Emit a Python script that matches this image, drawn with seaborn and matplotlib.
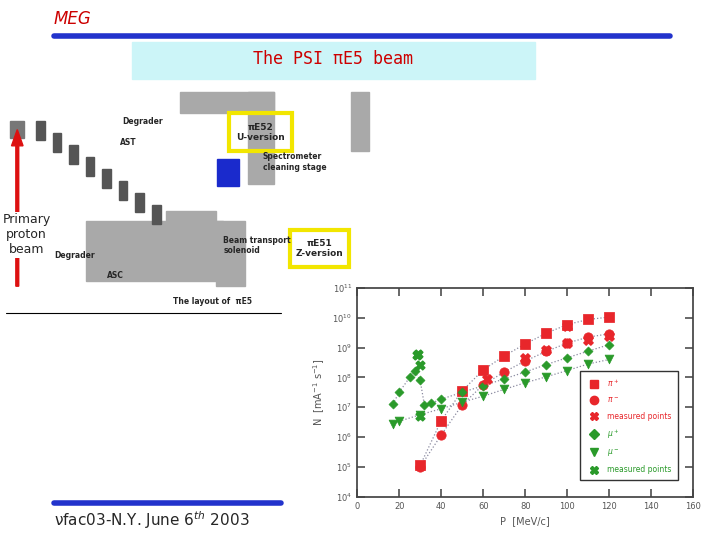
import numpy as np
import matplotlib
matplotlib.use("Agg")
import matplotlib.pyplot as plt
import matplotlib.patches as mpatches
import seaborn as sns

sns.set_theme(style="ticks")
plt.rcParams['font.family'] = ['DejaVu Sans']

# data (log10 of N)
p_pip = [30, 40, 50, 60, 70, 80, 90, 100, 110, 120]
n_pip = [5.05, 6.55, 7.55, 8.25, 8.72, 9.12, 9.48, 9.77, 9.94, 10.02]
p_pim = [30, 40, 50, 60, 70, 80, 90, 100, 110, 120]
n_pim = [5.0, 6.07, 7.08, 7.75, 8.18, 8.55, 8.87, 9.15, 9.35, 9.46]
p_pi_meas = [62, 80, 90, 100, 100, 110, 120]
n_pi_meas = [7.95, 8.66, 8.92, 9.15, 9.72, 9.26, 9.38]
p_mup = [17, 20, 25, 27.5, 30, 32, 35, 40, 50, 60, 70, 80, 90, 100, 110, 120]
n_mup = [7.1, 7.5, 8.0, 8.2, 7.9, 7.08, 7.13, 7.27, 7.5, 7.72, 7.95, 8.18, 8.43, 8.66, 8.88, 9.1]
p_mum = [17, 20, 30, 40, 50, 60, 70, 80, 90, 100, 110, 120]
n_mum = [6.45, 6.53, 6.75, 6.95, 7.17, 7.37, 7.6, 7.82, 8.02, 8.23, 8.45, 8.6]
p_mu_meas = [28.5, 29, 30, 30]
n_mu_meas = [8.75, 8.78, 8.4, 6.7]

red = "#e8262b"
green = "#2a9a2a"
line_gray = "#8a8aa0"

fig = plt.figure(figsize=(7.2, 5.4), dpi=100)

# slide decorations
fig.text(0.075, 0.965, "MEG", color="#cc0000", fontsize=12, style="italic", va="center")
fig.add_artist(plt.Line2D([0.075, 0.93], [0.933, 0.933], color="#2233cc", lw=4))
fig.add_artist(mpatches.Rectangle((0.183, 0.853), 0.56, 0.07, color="#ccf5f8", transform=fig.transFigure))
fig.text(0.463, 0.89, "The PSI \u03c0E5 beam", color="#cc0000", fontsize=12,
         ha="center", va="center", family="monospace")
fig.add_artist(plt.Line2D([0.075, 0.39], [0.068, 0.068], color="#2233cc", lw=4))
fig.text(0.075, 0.037, "\u03bdfac03-N.Y. June 6$^{th}$ 2003", fontsize=11, va="center")
fig.add_artist(plt.Line2D([0.008, 0.39], [0.42, 0.42], color="black", lw=0.8))

# rough sketch of the beamline layout
gray = "#a9a9a9"
for x, y, w, h in [(0.25, 0.79, 0.13, 0.04), (0.345, 0.66, 0.035, 0.17), (0.487, 0.72, 0.025, 0.11),
                   (0.12, 0.48, 0.19, 0.11), (0.30, 0.47, 0.04, 0.12), (0.23, 0.55, 0.07, 0.06)]:
    fig.add_artist(mpatches.Rectangle((x, y), w, h, color=gray, transform=fig.transFigure))
fig.add_artist(mpatches.Rectangle((0.302, 0.655), 0.03, 0.05, color="#1a2acc", transform=fig.transFigure))
fig.add_artist(mpatches.Rectangle((0.014, 0.745), 0.02, 0.03, color="#777777", transform=fig.transFigure))
for k in range(8):
    fig.add_artist(mpatches.Rectangle((0.05 + k * 0.023, 0.74 - k * 0.022), 0.012, 0.035,
                                      color="#555555", transform=fig.transFigure))
fig.add_artist(mpatches.FancyArrow(0.024, 0.47, 0, 0.26, width=0.004, head_width=0.016,
                                   head_length=0.03, color="#dd1111", transform=fig.transFigure))
fig.text(0.037, 0.565, "Primary\nproton\nbeam", fontsize=9, ha="center", va="center",
         bbox=dict(fc="white", ec="none", pad=1))
for x, y, w, h, s in [(0.318, 0.72, 0.087, 0.07, "\u03c0E52\nU-version"),
                      (0.403, 0.505, 0.082, 0.07, "\u03c0E51\nZ-version")]:
    fig.add_artist(mpatches.Rectangle((x, y), w, h, fill=False, ec="#f2e600", lw=3,
                                      transform=fig.transFigure))
    fig.text(x + w / 2, y + h / 2, s, fontsize=6.5, ha="center", va="center", weight="bold")
for x, y, s in [(0.17, 0.775, "Degrader"), (0.167, 0.737, "AST"), (0.365, 0.7, "Spectrometer\ncleaning stage"),
                (0.075, 0.527, "Degrader"), (0.148, 0.49, "ASC"), (0.31, 0.545, "Beam transport\nsolenoid"),
                (0.24, 0.442, "The layout of  \u03c0E5")]:
    fig.text(x, y, s, fontsize=5.5, weight="bold", va="center")

# the chart
ax = fig.add_axes([0.496, 0.08, 0.467, 0.387])
for px, ny in [(p_pip, n_pip), (p_pim, n_pim), (p_mup, n_mup), (p_mum, n_mum)]:
    sns.lineplot(x=px, y=ny, color=line_gray, linestyle=":", linewidth=0.9, legend=False, ax=ax)
sns.scatterplot(x=p_pip, y=n_pip, color=red, marker="s", s=45, edgecolor=red, ax=ax, zorder=4)
sns.scatterplot(x=p_pim, y=n_pim, color=red, marker="o", s=45, edgecolor=red, ax=ax, zorder=4)
sns.scatterplot(x=p_mup, y=n_mup, color=green, marker="D", s=22, edgecolor=green, ax=ax, zorder=4)
sns.scatterplot(x=p_mum, y=n_mum, color=green, marker="v", s=40, edgecolor=green, ax=ax, zorder=4)
ax.scatter(p_pi_meas, n_pi_meas, marker="X", s=45, color=red, zorder=5)
ax.scatter(p_mu_meas, n_mu_meas, marker="X", s=40, color=green, zorder=5)

h = [plt.Line2D([], [], ls="", marker="s", color=red), plt.Line2D([], [], ls="", marker="o", color=red),
     plt.Line2D([], [], ls="", marker="X", color=red), plt.Line2D([], [], ls="", marker="D", color=green, ms=5),
     plt.Line2D([], [], ls="", marker="v", color=green), plt.Line2D([], [], ls="", marker="X", color=green)]
leg = ax.legend(h, ["$\\pi^+$", "$\\pi^-$", "measured points", "$\\mu^+$", "$\\mu^-$", "measured points"],
                loc="lower right", fontsize=5.5, frameon=True, fancybox=False, edgecolor="black",
                bbox_to_anchor=(0.965, 0.06), labelspacing=0.85, borderpad=0.8)
leg.set_zorder(2)
for t, c in zip(leg.get_texts(), [red] * 3 + [green] * 3):
    t.set_color(c)

ax.set_xlim(0, 160)
ax.set_ylim(4, 11)
ax.set_xticks(range(0, 161, 20))
ax.set_yticks(range(4, 12))
ax.set_yticklabels([f"$10^{{{k}}}$" for k in range(4, 12)])
ax.tick_params(labelsize=6, colors="#555555", direction="in", top=True, right=True)
ax.set_xlabel("P  [MeV/c]", fontsize=7, color="#555555")
ax.set_ylabel("N  [mA$^{-1}$ s$^{-1}$]", fontsize=7, color="#555555")
for s in ax.spines.values():
    s.set_color("#444444")

fig.savefig("out.png", dpi=100)
